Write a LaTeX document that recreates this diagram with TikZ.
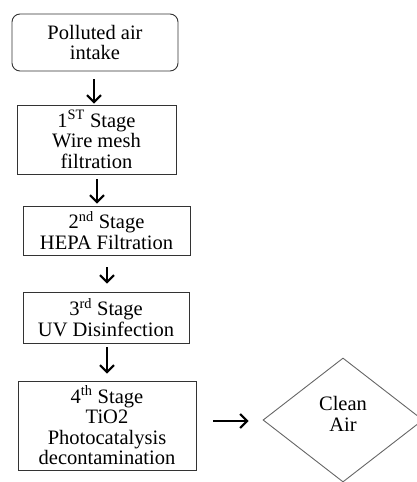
\documentclass[tikz,border=0pt]{standalone}
\usepackage{fontspec}
\setmainfont{Liberation Serif}
\newfontfamily\tnr{Liberation Serif}
\usetikzlibrary{arrows.meta,shapes.geometric}
\begin{document}
\begin{tikzpicture}[x=1pt,y=-1pt,
  txt/.style={font=\tnr\fontsize{20.5}{20.5}\selectfont},
  box/.style={draw=black!80, line width=0.9pt, align=center, inner sep=0pt, txt},
  arr/.style={line width=2pt, -{Straight Barb[length=7pt,width=14pt,line width=2pt]}},
  dia/.style={draw=black!60, line width=0.9pt, shape=diamond, inner sep=0pt,
    minimum width=160pt, minimum height=124pt}]
\useasboundingbox (0,0) rectangle (416,482);
\node[box, rounded corners=8pt, minimum width=166pt, minimum height=57pt] (b1) at (95,42.5) {Polluted air\\intake};
\node[box, minimum width=159pt, minimum height=69pt] (b2) at (96.5,139.5) {1\textsuperscript{ST} Stage\\Wire mesh\\filtration};
\node[box, minimum width=167pt, minimum height=49pt] (b3) at (106.5,230.5) {2\textsuperscript{nd} Stage\\HEPA Filtration};
\node[box, minimum width=166pt, minimum height=51pt] (b4) at (106,317.5) {3\textsuperscript{rd} Stage\\UV Disinfection};
\node[box, minimum width=178pt, minimum height=89pt] (b5) at (107,425.5) {4\textsuperscript{th} Stage\\TiO2\\Photocatalysis\\decontamination};
\node[dia] (d) at (343,420) {};
\node[align=center, txt] (dt) at ([yshift=6pt]d.center) {Clean\\Air};
\draw[arr] ([xshift=-1pt,yshift=-8pt]b1.south) -- ([xshift=-2.5pt,yshift=1pt]b2.north);
\draw[arr] ([xshift=0.5pt,yshift=-5pt]b2.south) -- ([xshift=-9.5pt,yshift=2pt]b3.north);
\draw[arr] ([xshift=0.5pt,yshift=-12pt]b3.south) -- ([xshift=1pt,yshift=8pt]b4.north);
\draw[arr] ([xshift=1pt,yshift=-4pt]b4.south) -- ([xshift=0pt,yshift=7pt]b5.north);
\draw[arr] ([xshift=17pt,yshift=4.5pt]b5.east) -- ([xshift=-14pt,yshift=-1pt]d.west);
\end{tikzpicture}
\end{document}
